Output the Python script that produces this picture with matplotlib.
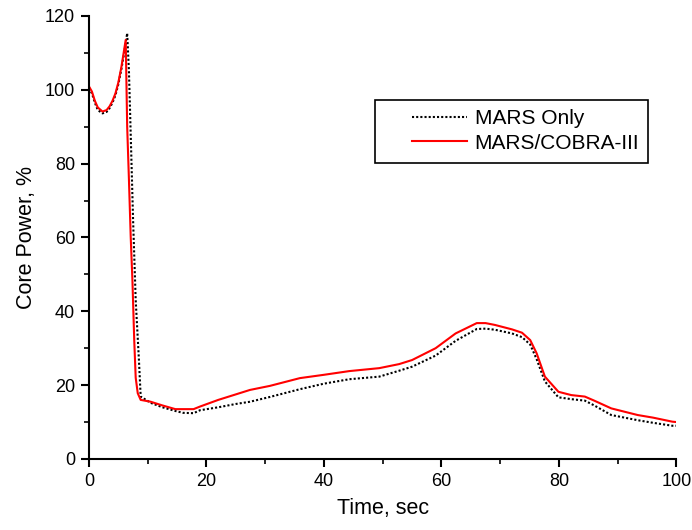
import matplotlib
matplotlib.use("Agg")
import matplotlib.pyplot as plt
from matplotlib.ticker import MultipleLocator
from matplotlib.patches import Rectangle

plt.rcParams['font.family'] = ['Liberation Sans', 'DejaVu Sans']

# MARS/COBRA-III (red)
t_cobra = [0, 0.5, 1.0, 1.5, 2.3, 3.0, 3.5, 4.0, 4.5, 5.0, 5.5, 5.9, 6.25, 6.5, 6.8,
           7.1, 7.4, 7.7, 7.95, 8.3, 8.8, 10.5, 12.5, 14.7, 17.8, 18.9, 22, 25,
           27.4, 30.8, 35.9, 40, 44.3, 49.4, 52.8, 55, 59, 62.4, 66, 67.5, 69.1,
           72, 73.7, 75.1, 76.2, 77.6, 79.9, 82.1, 84.4, 86, 88.9, 93.4, 96, 99.3,
           100]
p_cobra = [100.9, 99.5, 97, 95.2, 94.1, 94.5, 95.5, 97, 99, 102, 106, 110, 113.5,
           90, 75.6, 60.2, 48, 32.2, 22, 17.8, 16, 15.5, 14.5, 13.5, 13.5, 14.2,
           16, 17.5, 18.7, 19.8, 21.9, 22.8, 23.8, 24.6, 25.7, 26.8, 30.0, 34.0,
           36.8, 36.8, 36.3, 35.1, 34.2, 32.2, 28.6, 22.3, 18.2, 17.3, 16.9, 15.8,
           13.7, 11.9, 11.2, 10.1, 10.0]

# MARS only (black dotted)
t_mars = [0, 0.5, 1.0, 1.5, 2.3, 3.0, 3.5, 4.0, 4.5, 5.0, 5.5, 6.0, 6.5, 6.8, 7.1,
          7.5, 7.95, 8.5, 8.8, 10.5, 12.5, 14.7, 16, 17.8, 18.9, 22, 25, 27.4,
          30.8, 35.9, 40, 44.3, 49.4, 52.8, 55, 59, 62.4, 66, 67.5, 69.1, 72, 73.7,
          75.1, 76.2, 77.6, 79.9, 82.1, 84.4, 86, 88.9, 93.4, 96, 99.3, 100]
p_mars = [100.5, 99, 96.5, 94.5, 93.6, 94, 95, 96.5, 98.5, 101.5, 105.5, 110, 115.3,
          105, 88, 65, 43, 26.8, 16.9, 15.2, 14, 13, 12.5, 12.4, 13.2, 14.0, 14.9,
          15.5, 16.8, 18.9, 20.4, 21.6, 22.3, 23.9, 25, 28, 32, 35.2, 35.3, 35,
          34, 33, 31, 27, 21, 16.7, 16.2, 15.8, 14.5, 11.9, 10.5, 9.8, 9.0, 9.0]

fig = plt.figure(figsize=(6.92, 5.30), dpi=100)
ax = fig.add_axes([0.1286, 0.134, 0.849, 0.836])

ax.plot(t_mars, p_mars, color='black', linestyle=(0, (1, 1)), linewidth=1.5,
        label='MARS Only')
ax.plot(t_cobra, p_cobra, color='red', linewidth=1.5, label='MARS/COBRA-III')

ax.set_xlim(0, 100)
ax.set_ylim(0, 120)
ax.xaxis.set_major_locator(MultipleLocator(20))
ax.xaxis.set_minor_locator(MultipleLocator(10))
ax.yaxis.set_major_locator(MultipleLocator(20))
ax.yaxis.set_minor_locator(MultipleLocator(10))

ax.spines['top'].set_visible(False)
ax.spines['right'].set_visible(False)
ax.spines['left'].set_linewidth(1.5)
ax.spines['bottom'].set_linewidth(1.5)
ax.tick_params(which='major', direction='out', length=6, width=1.5, labelsize=13, pad=4)
ax.tick_params(which='minor', direction='out', length=3.5, width=1.2)

ax.set_xlabel('Time, sec', fontsize=15.5, labelpad=6)
ax.set_ylabel('Core Power, %', fontsize=15.5, labelpad=6)

# legend box drawn separately so the wide left margin of the original is kept
box = Rectangle((0.487, 0.668), 0.464, 0.142, transform=ax.transAxes,
                facecolor='white', edgecolor='black', linewidth=1.2, zorder=4)
ax.add_patch(box)
leg = ax.legend(loc='upper left', bbox_to_anchor=(0.55, 0.789), fontsize=15,
                frameon=False, borderaxespad=0, borderpad=0,
                handlelength=2.65, handletextpad=0.35, labelspacing=0.25)
leg.set_zorder(5)

fig.savefig('out.png', dpi=100)
